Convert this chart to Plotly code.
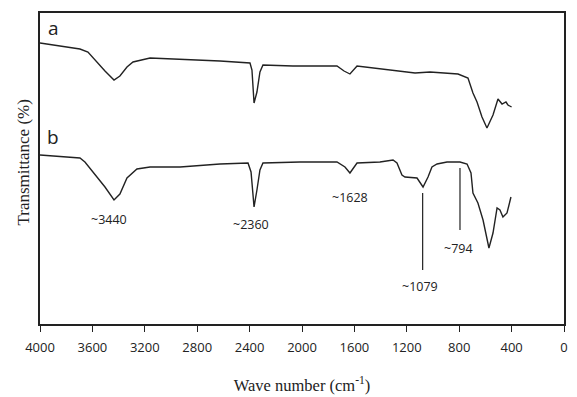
import plotly.graph_objects as go

# FTIR spectra (wavenumber in cm^-1, transmittance in arbitrary offset units)
wn_a = [4000, 3695, 3634, 3580, 3504, 3435, 3390, 3336, 3290, 3160, 2931, 2626,
        2397, 2382, 2366, 2344, 2321, 2298, 2069, 1733, 1679, 1634, 1580, 1405,
        1267, 1137, 1023, 931, 809, 733, 695, 664, 626, 588, 542, 504, 473, 443,
        428, 400]
t_a = [281, 275, 272, 264, 253, 244, 248, 257, 262, 266, 265, 263,
       261, 254, 221, 232, 252, 259, 258, 258, 253, 250, 258, 255,
       253, 251, 252, 251, 250, 246, 231, 222, 207, 196, 209, 225, 220, 222,
       219, 217]

wn_b = [4000, 3695, 3657, 3580, 3504, 3435, 3390, 3336, 3260, 3160, 2931, 2626,
        2412, 2389, 2366, 2344, 2321, 2298, 2015, 1733, 1672, 1634, 1580, 1405,
        1305, 1275, 1237, 1214, 1122, 1076, 1038, 1008, 969, 893, 794, 740, 710,
        695, 657, 618, 573, 542, 511, 489, 466, 435, 405]
t_b = [169, 166, 162, 150, 137, 124, 130, 146, 155, 157, 157, 160,
       161, 152, 117, 134, 154, 161, 162, 162, 157, 151, 161, 162,
       164, 161, 149, 147, 146, 137, 147, 157, 160, 162, 162, 160, 151,
       131, 121, 104, 76, 91, 116, 114, 107, 111, 127]

x_ticks = [4000, 3600, 3200, 2800, 2400, 2000, 1600, 1200, 800, 400, 0]

# Peak labels: (text, x, y)
peak_text = ["~3440", "~2360", "~1628", "~1079", "~794"]
peak_x = [3470, 2390, 1634, 1099, 809]
peak_y = [105, 100, 127, 38, 76]

# Marker lines pointing at the two low-wavenumber bands: (x, y_top, y_bottom)
mark_x = [1079, 794]
mark_top = [131, 156]
mark_bot = [54, 94]

line_col = "#222222"
sans = "Open Sans"
serif = "Liberation Serif"

fig = go.Figure()
fig.add_trace(go.Scatter(x=wn_a, y=t_a, mode="lines",
                         line=dict(color=line_col, width=1.4), showlegend=False))
fig.add_trace(go.Scatter(x=wn_b, y=t_b, mode="lines",
                         line=dict(color=line_col, width=1.4), showlegend=False))

for mx, y0, y1 in zip(mark_x, mark_top, mark_bot):
    fig.add_shape(type="line", x0=mx, x1=mx, y0=y0, y1=y1, xref="x", yref="y",
                  line=dict(color=line_col, width=1.2))

for txt, px, py in zip(peak_text, peak_x, peak_y):
    fig.add_annotation(x=px, y=py, text=txt, showarrow=False,
                       font=dict(family=sans, size=12.5, color="#222"))

for lbl, ly in [("a", 296), ("b", 187)]:
    fig.add_annotation(x=3900, y=ly, text=lbl, showarrow=False,
                       font=dict(family=sans, size=19, color="#222"))

# Vertical axis title, placed beside the left frame line
fig.add_annotation(xref="paper", yref="paper", x=-0.032, y=0.52,
                   xanchor="center", yanchor="middle",
                   text="Transmittance (%)", textangle=-90, showarrow=False,
                   font=dict(family=serif, size=17, color="#222"))

fig.update_layout(
    width=577, height=397,
    margin=dict(l=40, r=13, t=13, b=73),
    paper_bgcolor="white", plot_bgcolor="white",
    xaxis=dict(
        range=[4000, 0], tickvals=x_ticks,
        ticktext=[str(v) for v in x_ticks],
        ticks="outside", ticklen=6, tickwidth=1.3, tickcolor=line_col,
        ticklabelstandoff=5, automargin=False,
        showline=True, linecolor=line_col, linewidth=1.5, mirror=True,
        showgrid=False, zeroline=False,
        tickfont=dict(family=sans, size=13, color="#222"),
        title=dict(text="Wave number (cm<sup>-1</sup>)", standoff=24,
                   font=dict(family=serif, size=16.5, color="#222")),
    ),
    yaxis=dict(
        range=[0, 311], showticklabels=False, ticks="", automargin=False,
        showline=True, linecolor=line_col, linewidth=1.5, mirror=True,
        showgrid=False, zeroline=False,
    ),
)

fig.write_html("out.html")
